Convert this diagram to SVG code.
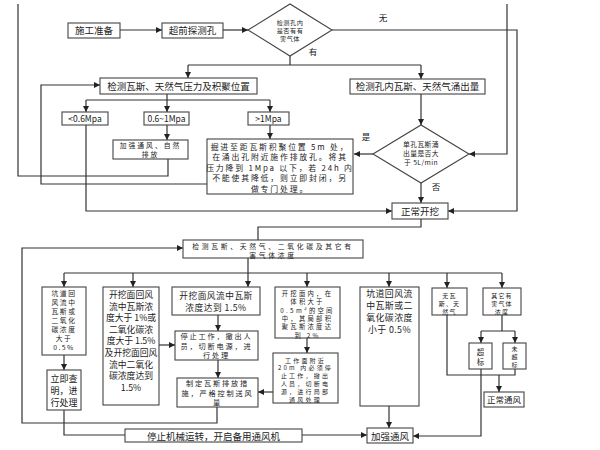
<svg xmlns="http://www.w3.org/2000/svg" width="600" height="450" viewBox="0 0 600 450">
<style>
.b{fill:#fff;stroke:#444;stroke-width:1.1}
.t{font-family:"Noto Sans CJK SC","Liberation Sans",sans-serif;font-size:9.5px;fill:#222;text-anchor:middle}
.l{fill:none;stroke:#333;stroke-width:1.2}
.a{fill:none;stroke:#333;stroke-width:1.2;marker-end:url(#ah)}
</style>
<defs>
<marker id="ah" markerWidth="6" markerHeight="6" refX="6" refY="3" orient="auto" markerUnits="userSpaceOnUse">
<path d="M0,0 L6,3 L0,6 z" fill="#222"/>
</marker>
</defs>
<rect width="600" height="450" fill="#fff"/>

<g id="connectors">
<path class="a" d="M120,30 H162"/>
<path class="a" d="M223,30 H248"/>
<path class="l" d="M290,56 V65 M188,65 H421"/>
<path class="a" d="M188,65 V78"/>
<path class="a" d="M421,65 V79"/>
<path class="l" d="M167,94 V100 M86,100 H270"/>
<path class="a" d="M86,100 V112"/>
<path class="a" d="M167,100 V112"/>
<path class="a" d="M270,100 V112"/>
<path class="a" d="M167,125 V140"/>
<path class="a" d="M270,125 V139"/>
<path class="a" d="M421,94 V125"/>
<path class="a" d="M373,154 H354"/>
<path class="a" d="M507,4 V154 H469"/>
<path class="a" d="M332,30 H517 V211 H448"/>
<path class="a" d="M421,183 V203"/>
<path class="a" d="M86,125 V211 H392"/>
<path class="l" d="M168,159 V176 H18 V4"/>
<path class="a" d="M207,184 H41 V85 H100"/>
<path class="l" d="M421,219 V227 H258 V240"/>
<path class="a" d="M217,407 V423 H22 V248 H183"/>
<path class="l" d="M248,258 V273 M64,273 H502"/>
<path class="a" d="M64,273 V287"/>
<path class="a" d="M133,273 V287"/>
<path class="a" d="M248,273 V287"/>
<path class="a" d="M307,273 V287"/>
<path class="a" d="M389,273 V287"/>
<path class="a" d="M447,273 V288"/>
<path class="a" d="M502,273 V288"/>
<path class="a" d="M64,355 V370"/>
<path class="a" d="M218,315 V331"/>
<path class="a" d="M159,345 H175"/>
<path class="a" d="M218,360 V378"/>
<path class="a" d="M307,338 V353"/>
<path class="a" d="M273,392 H258"/>
<path class="a" d="M389,406 V428"/>
<path class="l" d="M502,315 V331 M481,331 H515"/>
<path class="a" d="M481,331 V343"/>
<path class="a" d="M515,331 V343"/>
<path class="l" d="M447,315 V375 H515 V369"/>
<path class="a" d="M499,375 V392"/>
<path class="a" d="M481,369 V436 H413"/>
<path class="l" d="M64,410 V435 H125"/>
<path class="a" d="M302,435 H367"/>
</g>

<g id="n1"><rect class="b" x="68" y="23" width="52" height="15"/><text class="t" x="94" y="34">施工准备</text></g>
<g id="n2"><rect class="b" x="162" y="23" width="61" height="15"/><text class="t" x="192.5" y="34">超前探测孔</text></g>
<g id="n3"><polygon class="b" points="248,30 290,4 332,30 290,56"/>
<text class="t" style="font-size:6.2px;letter-spacing:0.5px"><tspan x="290" y="24.8">检测孔内</tspan><tspan x="290" y="33">是否有有</tspan><tspan x="290" y="41.2">害气体</tspan></text></g>
<text class="t" style="font-size:8.5px" x="383" y="21">无</text>
<text class="t" style="font-size:8.5px" x="313" y="55">有</text>
<g id="n4"><rect class="b" x="100" y="78" width="157" height="16"/><text class="t" x="178.5" y="90">检测瓦斯、天然气压力及积聚位置</text></g>
<g id="n5"><rect class="b" x="350" y="79" width="135" height="15"/><text class="t" x="417.5" y="90">检测孔内瓦斯、天然气涌出量</text></g>
<g id="n6"><rect class="b" x="62" y="112" width="46" height="13"/><text class="t" style="font-size:8.5px" x="85" y="122">&lt;0.6Mpa</text></g>
<g id="n7"><rect class="b" x="144" y="112" width="45" height="13"/><text class="t" style="font-size:8.5px" x="166.5" y="122">0.6~1Mpa</text></g>
<g id="n8"><rect class="b" x="248" y="112" width="41" height="13"/><text class="t" style="font-size:8.5px" x="268.5" y="122">&gt;1Mpa</text></g>
<g id="n9"><rect class="b" x="113" y="140" width="75" height="19"/>
<text class="t" style="font-size:6.8px;letter-spacing:2px"><tspan x="150.5" y="148">加强通风、自然</tspan><tspan x="150.5" y="157">排放</tspan></text></g>
<g id="n10"><rect class="b" x="207" y="139" width="146" height="55"/>
<text class="t" style="font-size:7.9px;letter-spacing:1.8px"><tspan x="280" y="149.5">掘进至距瓦斯积聚位置 5m 处，</tspan><tspan x="280" y="160">在涌出孔附近施作排放孔。将其</tspan><tspan x="280" y="170.5">压力降到 1Mpa 以下，若 24h 内</tspan><tspan x="280" y="181">不能使其降低，则立即封闭，另</tspan><tspan x="280" y="191.5">做专门处理。</tspan></text></g>
<g id="n11"><polygon class="b" points="373,154 421,125 469,154 421,183"/>
<text class="t" style="font-size:6.8px;letter-spacing:0.4px"><tspan x="421" y="147">单孔瓦斯涌</tspan><tspan x="421" y="156">出量是否大</tspan><tspan x="421" y="165">于 5L/min</tspan></text></g>
<text class="t" style="font-size:8.5px" x="366" y="140">是</text>
<text class="t" style="font-size:8.5px" x="436" y="190">否</text>
<g id="n12"><rect class="b" x="392" y="203" width="56" height="16"/><text class="t" x="420" y="215">正常开挖</text></g>

<g id="n13"><rect class="b" x="183" y="240" width="180" height="18"/>
<text class="t" style="font-size:6.8px;letter-spacing:2.7px"><tspan x="273" y="248.5">检测瓦斯、天然气、二氧化碳及其它有</tspan><tspan x="273" y="257.5">害气体浓度</tspan></text></g>
<g id="n14"><rect class="b" x="42" y="287" width="44" height="68"/>
<text class="t" style="font-size:6.8px;letter-spacing:1.5px"><tspan x="64" y="296">坑道回</tspan><tspan x="64" y="305">风流中</tspan><tspan x="64" y="314">瓦斯或</tspan><tspan x="64" y="323">二氧化</tspan><tspan x="64" y="332">碳浓度</tspan><tspan x="64" y="341">大于</tspan><tspan x="64" y="350">0.5%</tspan></text></g>
<g id="n15"><rect class="b" x="47" y="370" width="34" height="40"/>
<text class="t" style="font-size:9px"><tspan x="64" y="382">立即查</tspan><tspan x="64" y="394">明，进</tspan><tspan x="64" y="406">行处理</tspan></text></g>
<g id="n16"><rect class="b" x="103" y="287" width="56" height="118"/>
<text class="t" style="font-size:8.8px"><tspan x="131" y="298">开挖面回风</tspan><tspan x="131" y="309.6">流中瓦斯浓</tspan><tspan x="131" y="321.2">度大于 1%或</tspan><tspan x="131" y="332.8">二氧化碳浓</tspan><tspan x="131" y="344.4">度大于 1.5%</tspan><tspan x="131" y="356">及开挖面回风</tspan><tspan x="131" y="367.6">流中二氧化</tspan><tspan x="131" y="379.2">碳浓度达到</tspan><tspan x="131" y="390.8">1.5%</tspan></text></g>
<g id="n17"><rect class="b" x="172" y="287" width="88" height="28"/>
<text class="t" style="font-size:8.7px;letter-spacing:0.5px"><tspan x="216" y="298.5">开挖面风流中瓦斯</tspan><tspan x="216" y="310.5">浓度达到 1.5%</tspan></text></g>
<g id="n18"><rect class="b" x="175" y="331" width="83" height="29"/>
<text class="t" style="font-size:7.2px;letter-spacing:1.8px"><tspan x="216.5" y="339">停止工作，撤出人</tspan><tspan x="216.5" y="348.5">员，切断电源，进</tspan><tspan x="216.5" y="358">行处理</tspan></text></g>
<g id="n19"><rect class="b" x="177" y="378" width="81" height="29"/>
<text class="t" style="font-size:7.2px;letter-spacing:1.8px"><tspan x="217.5" y="386">制定瓦斯排放措</tspan><tspan x="217.5" y="395.5">施，严格控制送风</tspan><tspan x="217.5" y="405">量</tspan></text></g>
<g id="n20"><rect class="b" x="275" y="287" width="65" height="51"/>
<text class="t" style="font-size:6.3px;letter-spacing:2.3px"><tspan x="307.5" y="296">开挖面内，在</tspan><tspan x="307.5" y="304.3">体积大于</tspan><tspan x="307.5" y="312.6">0.5m³的空间</tspan><tspan x="307.5" y="320.9">中，其局部积</tspan><tspan x="307.5" y="329.2">聚瓦斯浓度达</tspan><tspan x="307.5" y="337.5">到 2%</tspan></text></g>
<g id="n21"><rect class="b" x="273" y="353" width="65" height="50"/>
<text class="t" style="font-size:6px;letter-spacing:2.2px"><tspan x="305.5" y="362.5">工作面附近</tspan><tspan x="305.5" y="370.4">20m 内必须停</tspan><tspan x="305.5" y="378.3">止工作，撤出</tspan><tspan x="305.5" y="386.2">人员，切断电</tspan><tspan x="305.5" y="394.1">源，进行局部</tspan><tspan x="305.5" y="402">通风处理</tspan></text></g>
<g id="n22"><rect class="b" x="360" y="287" width="59" height="119"/>
<text class="t" style="font-size:8.9px;letter-spacing:0.4px"><tspan x="389.5" y="297">坑道回风流</tspan><tspan x="389.5" y="309">中瓦斯或二</tspan><tspan x="389.5" y="321">氧化碳浓度</tspan><tspan x="389.5" y="333">小于 0.5%</tspan></text></g>
<g id="n23"><rect class="b" x="432" y="288" width="35" height="27"/>
<text class="t" style="font-size:6px;letter-spacing:1.2px"><tspan x="449.5" y="297.5">无瓦</tspan><tspan x="449.5" y="305.5">斯、天</tspan><tspan x="449.5" y="313.5">然气</tspan></text></g>
<g id="n24"><rect class="b" x="483" y="288" width="38" height="27"/>
<text class="t" style="font-size:6px;letter-spacing:1.2px"><tspan x="502" y="297.5">其它有</tspan><tspan x="502" y="305.5">害气体</tspan><tspan x="502" y="313.5">浓度</tspan></text></g>
<g id="n25"><rect class="b" x="469" y="343" width="23" height="26"/>
<text class="t" style="font-size:7.5px"><tspan x="480.5" y="355">超</tspan><tspan x="480.5" y="365">标</tspan></text></g>
<g id="n26"><rect class="b" x="503" y="343" width="23" height="26"/>
<text class="t" style="font-size:6px"><tspan x="514.5" y="351">未</tspan><tspan x="514.5" y="359">超</tspan><tspan x="514.5" y="367">标</tspan></text></g>
<g id="n27"><rect class="b" x="484" y="392" width="40" height="15"/><text class="t" style="font-size:8.5px" x="504" y="403">正常通风</text></g>
<g id="n28"><rect class="b" x="367" y="428" width="46" height="15"/><text class="t" x="390" y="439.5">加强通风</text></g>
<g id="n29"><rect class="b" x="125" y="429" width="177" height="13"/><text class="t" x="213.5" y="440">停止机械运转，开启备用通风机</text></g>
</svg>
